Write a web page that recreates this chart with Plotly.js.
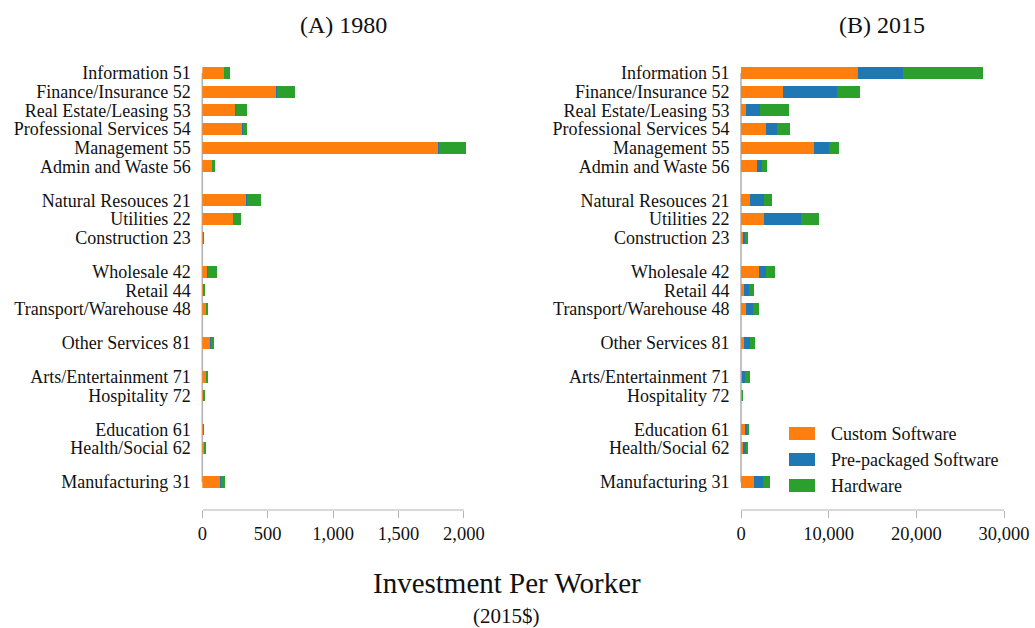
<!DOCTYPE html>
<html>
<head>
<meta charset="utf-8">
<script src="https://cdn.plot.ly/plotly-3.0.1.min.js"></script>
<style>html,body{margin:0;padding:0;background:#fff;}#chart{width:1035px;height:628px;}</style>
</head>
<body>
<div id="chart"></div>
<script>
// ---- data ----
const categories = [
  "Information 51", "Finance/Insurance 52", "Real Estate/Leasing 53", "Professional Services 54",
  "Management 55", "Admin and Waste 56",
  "Natural Resouces 21", "Utilities 22", "Construction 23",
  "Wholesale 42", "Retail 44", "Transport/Warehouse 48",
  "Other Services 81",
  "Arts/Entertainment 71", "Hospitality 72",
  "Education 61", "Health/Social 62",
  "Manufacturing 31"
];
const groupSizes = [6, 3, 3, 1, 2, 2, 1];

const custom1980 = [164, 563, 250, 303, 1802, 74, 332, 232, 4, 38, 6, 25, 62, 25, 5, 4, 10, 135];
const prepack1980 = [5, 6, 5, 5, 6, 3, 6, 5, 2, 3, 2, 2, 3, 2, 2, 2, 4, 5];
const hardware1980 = [45, 140, 87, 34, 208, 20, 112, 59, 9, 74, 14, 19, 27, 19, 15, 9, 17, 34];

const custom2015 = [13350, 4790, 570, 2850, 8330, 1830, 1030, 2620, 230, 2050, 340, 570, 340, 80, 80, 460, 230, 1480];
const prepack2015 = [5130, 6130, 1600, 1260, 1710, 570, 1590, 4230, 230, 800, 570, 800, 690, 380, 40, 220, 340, 1030];
const hardware2015 = [9130, 2660, 3310, 1480, 1140, 570, 920, 2050, 340, 1030, 570, 680, 570, 570, 110, 230, 230, 800];

const seriesNames = ["Custom Software", "Pre-packaged Software", "Hardware"];
const colors = ["#ff7f0e", "#1f77b4", "#2ca02c"];
const panelTitles = ["(A) 1980", "(B) 2015"];
const ticks1980 = [0, 500, 1000, 1500, 2000];
const ticks2015 = [0, 10000, 20000, 30000];

// ---- positions (gap between groups) ----
const GAP = 1.82;
const ypos = [];
let cur = 0;
groupSizes.forEach((n) => {
  for (let i = 0; i < n; i++) {
    ypos.push(cur);
    if (i < n - 1) cur += 1;
  }
  cur += GAP;
});
const yFirst = ypos[0], yLast = ypos[ypos.length - 1];

const W = 1035, H = 628;
const FONT = "Liberation Serif, Times New Roman, serif";

function traces(vals, xa, ya) {
  return vals.map((v, i) => ({
    type: "bar", orientation: "h", x: v, y: ypos,
    xaxis: xa, yaxis: ya, name: seriesNames[i],
    marker: { color: colors[i], line: { width: 0 } },
    width: 0.64, showlegend: false, hoverinfo: "x+name"
  }));
}

const data = [
  ...traces([custom1980, prepack1980, hardware1980], "x", "y"),
  ...traces([custom2015, prepack2015, hardware2015], "x2", "y2")
];

// plot geometry in pixels
const plotTop = 54.3, plotBottom = 510;
const yRange = [yLast + (plotBottom - 482) / 18.76, yFirst - (73 - plotTop) / 18.76];
const yDom = [1 - plotBottom / H, 1 - plotTop / H];

const x1Dom = [202.3 / W, (202.3 + 2100 * 0.1308) / W];
const x2Dom = [741 / W, (741 + 31000 * (263 / 30000)) / W];

const axisGray = "#b3b3b3";

function xaxis(dom, range, tv, anchor) {
  return {
    domain: dom, range: range, anchor: anchor,
    tickvals: tv, tickformat: ",d",
    ticks: "outside", ticklen: 7, tickwidth: 1, tickcolor: axisGray,
    showline: false, showgrid: false, zeroline: false,
    tickfont: { family: FONT, size: 18.5, color: "#111" }
  };
}
function yaxis(anchor) {
  return {
    domain: yDom, range: yRange, anchor: anchor,
    tickvals: ypos, ticktext: categories,
    ticks: "outside", ticklen: 7, tickcolor: "rgba(0,0,0,0)",
    showline: false, showgrid: false, zeroline: false,
    tickfont: { family: FONT, size: 18, color: "#111" }
  };
}

const shapes = [];
// x spines (bounded)
shapes.push({ type: "line", xref: "x", yref: "paper", x0: 0, x1: 2000, y0: yDom[0], y1: yDom[0], line: { color: axisGray, width: 1.2 } });
shapes.push({ type: "line", xref: "x2", yref: "paper", x0: 0, x1: 30000, y0: yDom[0], y1: yDom[0], line: { color: axisGray, width: 1.2 } });
// y spines (bounded)
shapes.push({ type: "line", xref: "paper", yref: "y", x0: x1Dom[0], x1: x1Dom[0], y0: yFirst, y1: yLast, line: { color: axisGray, width: 1.6 }, layer: "below" });
shapes.push({ type: "line", xref: "paper", yref: "y2", x0: x2Dom[0], x1: x2Dom[0], y0: yFirst, y1: yLast, line: { color: axisGray, width: 1.6 }, layer: "below" });

const annotations = [
  { text: panelTitles[0], x: 343 / W, y: 1 - 25 / H, xref: "paper", yref: "paper", showarrow: false, xanchor: "center", yanchor: "middle", font: { family: FONT, size: 24, color: "#111" } },
  { text: panelTitles[1], x: 882 / W, y: 1 - 25 / H, xref: "paper", yref: "paper", showarrow: false, xanchor: "center", yanchor: "middle", font: { family: FONT, size: 24, color: "#111" } },
  { text: "Investment Per Worker", x: 507 / W, y: 1 - 583 / H, xref: "paper", yref: "paper", showarrow: false, xanchor: "center", yanchor: "middle", font: { family: FONT, size: 29, color: "#111" } },
  { text: "(2015$)", x: 506 / W, y: 1 - 616 / H, xref: "paper", yref: "paper", showarrow: false, xanchor: "center", yanchor: "middle", font: { family: FONT, size: 21, color: "#111" } }
];

// custom legend
const legTop = [427, 453, 479];
seriesNames.forEach((nm, i) => {
  shapes.push({ type: "rect", xref: "paper", yref: "paper", x0: 789 / W, x1: 815 / W, y0: 1 - (legTop[i] + 13) / H, y1: 1 - legTop[i] / H, fillcolor: colors[i], line: { width: 0 } });
  annotations.push({ text: nm, x: 829 / W, y: 1 - (legTop[i] + 6.5) / H, xref: "paper", yref: "paper", showarrow: false, xanchor: "left", yanchor: "middle", font: { family: FONT, size: 18, color: "#111" } });
});

const layout = {
  width: W, height: H,
  margin: { l: 0, r: 0, t: 0, b: 0 },
  paper_bgcolor: "#fff", plot_bgcolor: "#fff",
  barmode: "stack", bargap: 0,
  showlegend: false,
  xaxis: xaxis(x1Dom, [0, 2100], ticks1980, "y"),
  yaxis: yaxis("x"),
  xaxis2: xaxis(x2Dom, [0, 31000], ticks2015, "y2"),
  yaxis2: yaxis("x2"),
  shapes: shapes,
  annotations: annotations,
  font: { family: FONT }
};

Plotly.newPlot("chart", data, layout, { displayModeBar: false, staticPlot: true });
</script>
</body>
</html>
